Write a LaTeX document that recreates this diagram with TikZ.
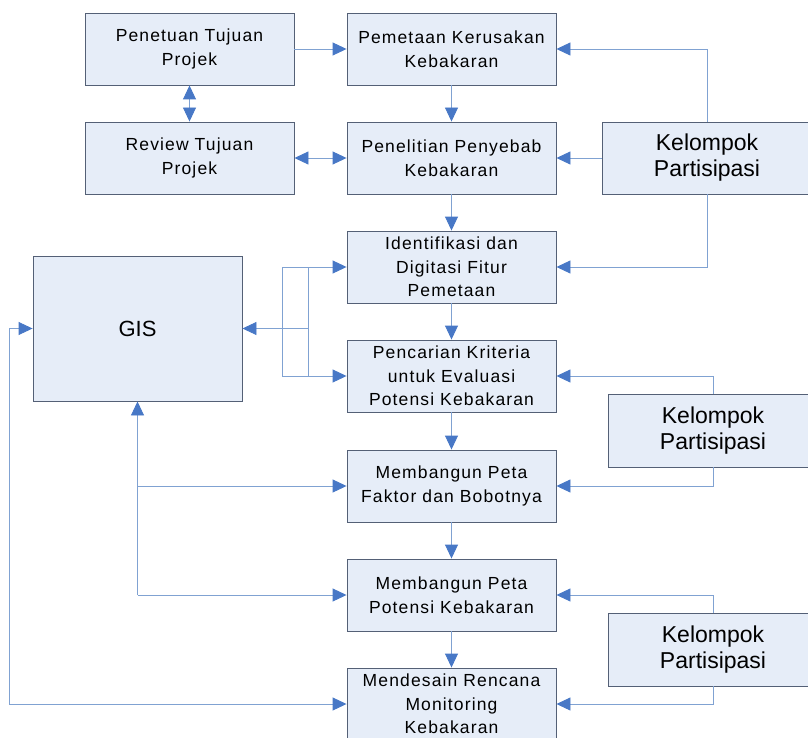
\documentclass[tikz,border=0pt]{standalone}
\usepackage{fontspec}
\setmainfont{Liberation Sans}
\newfontfamily\spacedfont[LetterSpace=6.5]{Liberation Sans}
\usetikzlibrary{arrows.meta}
\definecolor{boxfill}{RGB}{230,237,248}
\definecolor{boxdraw}{RGB}{84,96,118}
\definecolor{linec}{RGB}{128,162,210}
\definecolor{arrowc}{RGB}{72,120,198}
\tikzset{
  procbox/.style={draw=boxdraw, fill=boxfill, line width=0.9pt, minimum width=209pt, minimum height=72pt, inner sep=0pt, align=center, font=\spacedfont\fontsize{17.5}{23.5}\selectfont},
  partbox/.style={procbox, font=\fontsize{23}{26}\selectfont},
  plainline/.style={draw=linec, line width=0.9pt},
  conn/.style={plainline, -{Triangle[length=14pt,width=13pt,color=arrowc]}},
  dconn/.style={plainline, {Triangle[length=14pt,width=13pt,color=arrowc]}-{Triangle[length=14pt,width=13pt,color=arrowc]}}
}
\begin{document}
\begin{tikzpicture}[x=1pt,y=-1pt]
\useasboundingbox (0,0) rectangle (808,738);
% process boxes
\node[procbox] (pen) at (189.5,49) {Penetuan Tujuan\\Projek};
\node[procbox] (rev) at (189.5,158) {Review Tujuan\\Projek};
\node[procbox] (pem) at (451.5,49) {Pemetaan Kerusakan\\Kebakaran};
\node[procbox] (pnl) at (451.5,158) {Penelitian Penyebab\\Kebakaran};
\node[procbox] (idf) at (451.5,267) {Identifikasi dan\\Digitasi Fitur\\Pemetaan};
\node[procbox] (pcr) at (451.5,376) {Pencarian Kriteria\\untuk Evaluasi\\Potensi Kebakaran};
\node[procbox] (mbf) at (451.5,486) {Membangun Peta\\Faktor dan Bobotnya};
\node[procbox] (mbp) at (451.5,595) {Membangun Peta\\Potensi Kebakaran};
\node[procbox] (mds) at (451.5,704) {Mendesain Rencana\\Monitoring\\Kebakaran};
\node[partbox, minimum height=145pt, font=\fontsize{22}{26}\selectfont] (gis) at (137.5,328.5) {GIS};
\node[partbox, minimum width=210pt] (k1) at (707,158) {Kelompok\\Partisipasi};
\node[partbox, minimum width=210pt, minimum height=73pt] (k2) at (713,430.5) {Kelompok\\Partisipasi};
\node[partbox, minimum width=210pt, minimum height=73pt] (k3) at (713,649.5) {Kelompok\\Partisipasi};
% top-left connectors
\draw[conn] (pen) -- (pem);
\draw[dconn] (pen) -- (rev);
\draw[dconn] (rev) -- (pnl);
% main chain
\draw[conn] (pem) -- (pnl);
\draw[conn] (pnl) -- (idf);
\draw[conn] (idf) -- (pcr);
\draw[conn] (pcr) -- (mbf);
\draw[conn] (mbf) -- (mbp);
\draw[conn] (mbp) -- (mds);
% participation groups
\draw[conn] (k1.north) |- (pem.east);
\draw[conn] (k1.west) -- (pnl.east);
\draw[conn] (k1.south) |- (idf.east);
\draw[conn] (k2.north) |- (pcr.east);
\draw[conn] (k2.south) |- (mbf.east);
\draw[conn] (k3.north) |- (mbp.east);
\draw[conn] (k3.south) |- (mds.east);
% GIS links (right side)
\coordinate (a1) at (282,267);
\coordinate (a2) at (282,376);
\coordinate (b1) at (308,267);
\coordinate (b2) at (308,376);
\coordinate (b0) at (308,328.5);
\draw[dconn] (idf.west) -- (a1) -- (a2) -- (pcr.west);
\draw[plainline] (b1) -- (b2);
\draw[conn] (b0) -- (gis.east);
% GIS links (bottom)
\coordinate (c2) at (137.5,595);
\draw[conn] (c2) -- (gis.south);
\draw[conn] (gis.south |- mbf.west) -- (mbf.west);
\draw[conn] (c2) -- (mbp.west);
% GIS links (left)
\coordinate (d1) at (9,328.5);
\coordinate (d2) at (9,704);
\draw[dconn] (gis.west) -- (d1) -- (d2) -- (mds.west);
\end{tikzpicture}
\end{document}
